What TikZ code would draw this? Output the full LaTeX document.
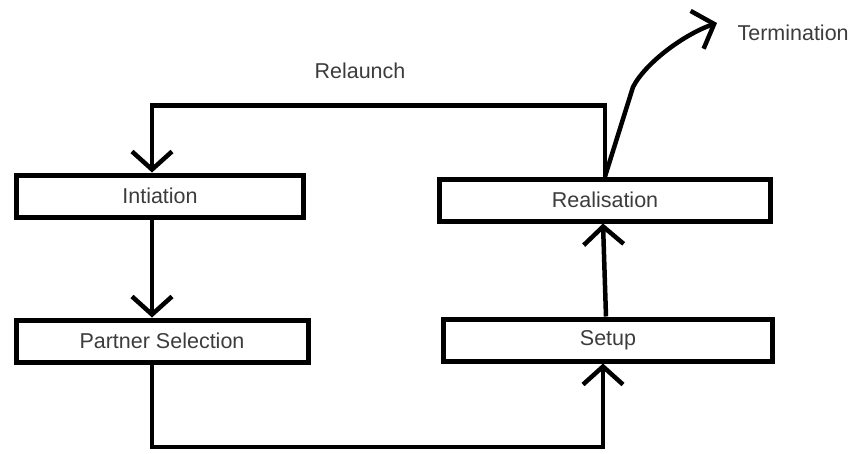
\documentclass[tikz,border=0pt]{standalone}
\usepackage{fontspec}
\setmainfont{Liberation Sans}
\usetikzlibrary{arrows.meta,positioning}

\definecolor{txtgray}{HTML}{3C3C3C}

\begin{document}
\begin{tikzpicture}[x=1pt,y=-1pt,
    box/.style={draw,line width=5pt,minimum width=#1,minimum height=42pt,inner sep=0pt,
      text=txtgray,font=\fontsize{21.5}{25}\selectfont},
    flow/.style={line width=4.5pt,-{Straight Barb[length=18pt,width=40pt]}},
    lbl/.style={text=txtgray,font=\fontsize{21.5}{25}\selectfont}]
    \useasboundingbox (0,0) rectangle (860,453);
    % the four stages
    \node[box=287pt] (init) at (160,196) {Intiation};
    \node[box=292pt] (part) at (162,341) {Partner Selection};
    \node[box=331pt] (real) at (605,200) {Realisation};
    \node[box=329pt] (setup) at (608,340) {Setup};
    % loop and exit
    \node[lbl] (relaunch) at (360,71) {Relaunch};
    \node[lbl,anchor=west] (term) at (734,33) {Termination};
    \coordinate (bend) at (633,87);
    % connectors
    \draw[flow] (real.north) -- ++(0,-71) -| ([xshift=-8pt]init.north);
    \draw[flow] ([xshift=-8pt]init.south) -- ([xshift=-10pt]part.north);
    \draw[flow] ([xshift=-10pt]part.south) |- (447,447) -| ([xshift=-5pt]setup.south);
    \draw[flow] ([xshift=-2pt]setup.north) -- ([xshift=-2pt]real.south);
    \draw[flow] (real.north) -- (bend) .. controls (646,62) and (685,34) .. ([xshift=-17pt,yshift=10pt]term.west);
\end{tikzpicture}
\end{document}
